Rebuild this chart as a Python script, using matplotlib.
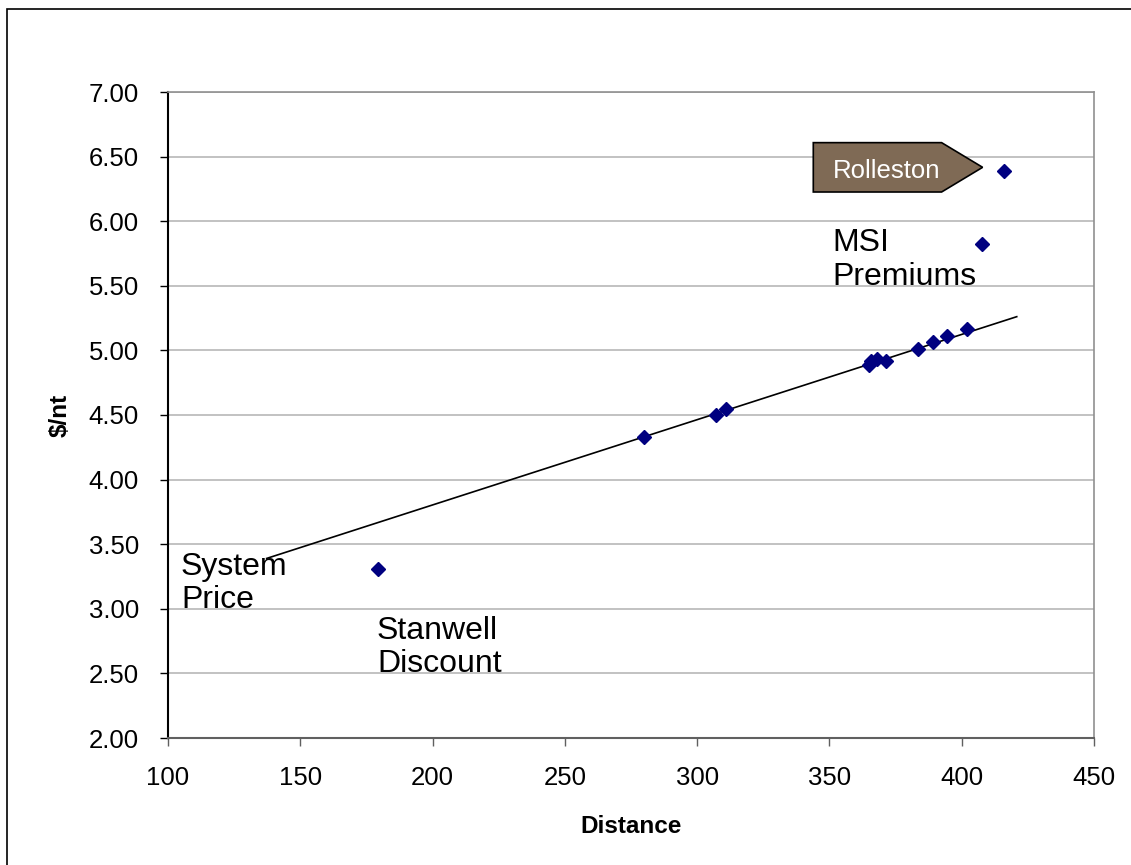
import matplotlib.pyplot as plt
from matplotlib.patches import Polygon, Rectangle

# Data
dist = [179.3, 280.0, 307.0, 310.9, 365.0, 365.8, 368.1, 371.4, 383.4, 389.3, 394.6, 402.1, 407.5, 415.9]
price = [3.31, 4.33, 4.50, 4.55, 4.89, 4.92, 4.93, 4.915, 5.01, 5.065, 5.115, 5.163, 5.826, 6.39]

# trendline end points
trend_x = [137.3, 420.8]
trend_y = [3.39, 5.261]

x_ticks = [100, 150, 200, 250, 300, 350, 400, 450]
y_ticks = [2.0, 2.5, 3.0, 3.5, 4.0, 4.5, 5.0, 5.5, 6.0, 6.5, 7.0]

plt.rcParams['font.family'] = ['Liberation Sans', 'DejaVu Sans']

fig = plt.figure(figsize=(11.31, 8.65), dpi=100)
ax = fig.add_axes([168 / 1131, 1 - 738 / 865, (1094 - 168) / 1131, (738 - 92) / 865])

# outer chart border
fig.patches.append(Rectangle((7 / 1131, -0.05), 1.2, 1 - 9 / 865 + 0.05, transform=fig.transFigure,
                             fill=False, edgecolor='black', linewidth=1.2))

ax.set_xlim(100, 450)
ax.set_ylim(2, 7)
ax.set_xticks(x_ticks)
ax.set_yticks(y_ticks)
ax.set_yticklabels([f'{v:.2f}' for v in y_ticks])
ax.tick_params(axis='both', direction='out', length=6, width=1, labelsize=18.5)
ax.tick_params(axis='y', pad=15)
ax.tick_params(axis='x', pad=14)

ax.grid(axis='y', color='#b8b8b8', linewidth=1.2)
ax.set_axisbelow(True)
for s in ['top', 'right']:
    ax.spines[s].set_color('#909090')
    ax.spines[s].set_linewidth(1.2)
ax.spines['bottom'].set_color('#606060')
ax.spines['bottom'].set_linewidth(1.5)
ax.spines['left'].set_color('black')
ax.spines['left'].set_linewidth(1.5)
ax.tick_params(axis='x', color='#606060')

ax.plot(trend_x, trend_y, color='black', linewidth=1.2, zorder=3)
ax.plot(dist, price, linestyle='none', marker='D', markersize=7, color='#000080', zorder=4)

ax.set_xlabel('Distance', fontsize=17.5, fontweight='bold', labelpad=18)
ax.set_ylabel('$/nt', fontsize=17.5, fontweight='bold', labelpad=12)

# annotations
ax.text(104.9, 3.44, 'System\nPrice', fontsize=23, va='top', ha='left', linespacing=1.15)
ax.text(179.0, 2.948, 'Stanwell\nDiscount', fontsize=23, va='top', ha='left', linespacing=1.15)
ax.text(351.2, 5.945, 'MSI\nPremiums', fontsize=23, va='top', ha='left', linespacing=1.15)

callout = Polygon([(343.9, 6.608), (392.4, 6.608), (407.9, 6.417), (392.4, 6.226), (343.9, 6.226)],
                  closed=True, facecolor='#7f6a55', edgecolor='black', linewidth=1.2, zorder=5)
ax.add_patch(callout)
ax.text(371.6, 6.386, 'Rolleston', fontsize=18.5, color='white', ha='center', va='center', zorder=6)

fig.savefig('out.png', dpi=100)
